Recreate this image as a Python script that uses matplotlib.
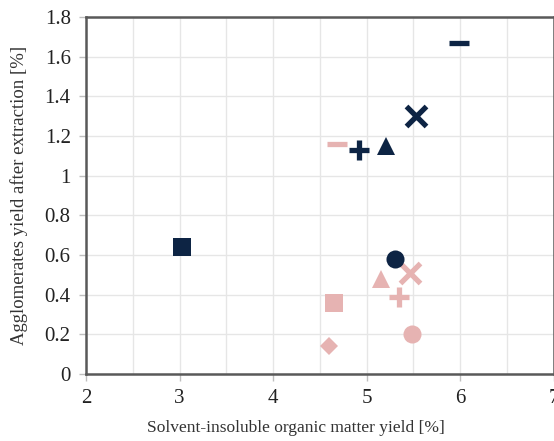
import matplotlib
matplotlib.use("Agg")
import matplotlib.pyplot as plt
import numpy as np

plt.rcParams['font.family'] = ['Liberation Serif', 'DejaVu Serif']

navy = '#0d2444'
pink = '#e6b3b2'

# navy series (x = solvent-insoluble OM yield, y = agglomerates yield)
navy_markers = ['s', '_', 'P', '^', 'x', 'o']
navy_x = [3.03, 5.99, 4.92, 5.21, 5.53, 5.30]
navy_y = [0.64, 1.67, 1.13, 1.15, 1.30, 0.58]

# pink series
pink_markers = ['_', '^', 'x', 'P', 's', 'o', 'D']
pink_x = [4.68, 5.16, 5.47, 5.35, 4.65, 5.49, 4.60]
pink_y = [1.16, 0.48, 0.51, 0.39, 0.36, 0.20, 0.14]

xticks = [2, 3, 4, 5, 6, 7]
yticks = [0, 0.2, 0.4, 0.6, 0.8, 1, 1.2, 1.4, 1.6, 1.8]
ytick_labels = ['0', '0.2', '0.4', '0.6', '0.8', '1', '1.2', '1.4', '1.6', '1.8']

fig = plt.figure(figsize=(5.54, 4.41), dpi=100)
ax = fig.add_axes([86 / 554, 67 / 441, (553.5 - 86) / 554, (374 - 17) / 441])


def draw(xs, ys, markers, color):
    for x, y, m in zip(xs, ys, markers):
        if m in ('_', 'x'):
            ax.plot(x, y, linestyle='none', marker=m, markersize=14 if m == 'x' else 15,
                    markeredgewidth=3.8, color=color, zorder=3)
        elif m == 'P':
            ax.plot(x, y, linestyle='none', marker='+', markersize=15,
                    markeredgewidth=3.8, color=color, zorder=3)
        else:
            size = {'s': 13, '^': 13, 'o': 13, 'D': 9}[m]
            ax.plot(x, y, linestyle='none', marker=m, markersize=size,
                    color=color, markeredgewidth=0, zorder=3)


draw(pink_x, pink_y, pink_markers, pink)
draw(navy_x, navy_y, navy_markers, navy)

ax.set_xlim(2, 7)
ax.set_ylim(0, 1.8)
ax.set_xticks(xticks)
ax.set_yticks(yticks)
ax.set_yticklabels(ytick_labels)
ax.set_xticks(np.arange(2.5, 7, 1), minor=True)
ax.grid(True, which='both', color='#e6e6e6', linewidth=1)
ax.set_axisbelow(True)
ax.tick_params(axis='both', which='major', labelsize=15, length=5, width=1,
               color='#bfbfbf', labelcolor='#222222', pad=6)
ax.tick_params(axis='both', which='minor', length=0)
for s in ax.spines.values():
    s.set_color('#595959')
    s.set_linewidth(1.8)

ax.set_xlabel('Solvent-insoluble organic matter yield [%]', fontsize=12.5,
              color='#333333')
ax.xaxis.set_label_coords(0.449, -0.13)
ax.set_ylabel('Agglomerates yield after extraction [%]', fontsize=13.5,
              color='#333333')
ax.yaxis.set_label_coords(-0.125, 0.5)

fig.savefig('out.png', dpi=100)
